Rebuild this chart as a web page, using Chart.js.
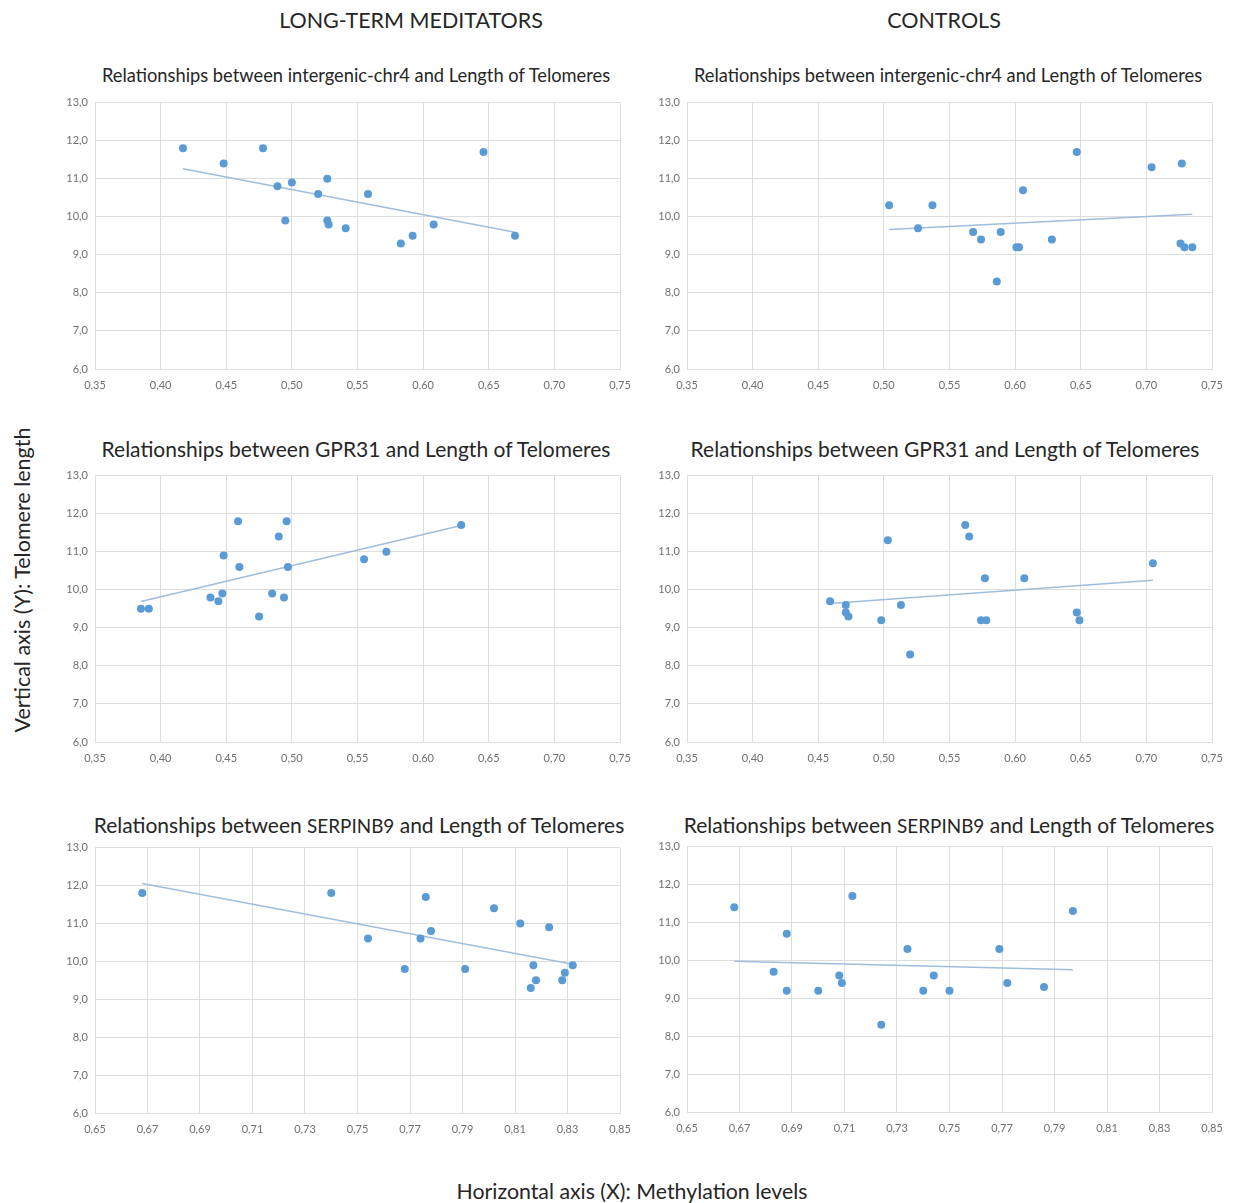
<!DOCTYPE html>
<html>
<head>
<meta charset="utf-8">
<script src="https://cdn.jsdelivr.net/npm/chart.js@4.4.0/dist/chart.umd.min.js"></script>
<style>
  html, body { margin: 0; padding: 0; background: #fff; }
  body { width: 1238px; height: 1203px; position: relative; overflow: hidden; font-family: Lato, "Open Sans", sans-serif; color: #222; }
  .box { position: absolute; }
  .txt { position: absolute; white-space: nowrap; transform: translate(-50%, -50%); color: #262626; }
  .head { font-size: 21.5px; }
  .t1 { font-size: 18.3px; }
  .t2 { font-size: 21px; }
  .small { font-size: 0.9em; }
  .ylab { font-size: 21.5px; transform: translate(-50%, -50%) rotate(-90deg); }
  .xlab { font-size: 21.3px; }
</style>
</head>
<body>
<div class="txt head" style="left:411px; top:20px;">LONG-TERM MEDITATORS</div>
<div class="txt head" style="left:944px; top:20px;">CONTROLS</div>

<div class="txt t1" style="left:356px; top:75px;">Relationships between intergenic-chr4 and Length of Telomeres</div>
<div class="txt t1" style="left:948px; top:75px;">Relationships between intergenic-chr4 and Length of Telomeres</div>
<div class="txt t2" style="left:356px; top:448px;">Relationships between GPR31 and Length of Telomeres</div>
<div class="txt t2" style="left:945px; top:448px;">Relationships between GPR31 and Length of Telomeres</div>
<div class="txt t2" style="left:359px; top:824px;">Relationships between <span class="small">SERPINB9</span> and Length of Telomeres</div>
<div class="txt t2" style="left:949px; top:824px;">Relationships between <span class="small">SERPINB9</span> and Length of Telomeres</div>

<div class="txt ylab" style="left:22px; top:580px;">Vertical axis (Y): Telomere length</div>
<div class="txt xlab" style="left:632px; top:1191px;">Horizontal axis (X): Methylation levels</div>

<div class="box" id="b1"><canvas id="c1"></canvas></div>
<div class="box" id="b2"><canvas id="c2"></canvas></div>
<div class="box" id="b3"><canvas id="c3"></canvas></div>
<div class="box" id="b4"><canvas id="c4"></canvas></div>
<div class="box" id="b5"><canvas id="c5"></canvas></div>
<div class="box" id="b6"><canvas id="c6"></canvas></div>

<script>
// ---- Data (methylation level X, telomere length Y) ----
const ltmChr4X = [0.417, 0.448, 0.478, 0.489, 0.500, 0.495, 0.520, 0.527, 0.527, 0.528, 0.541, 0.558, 0.583, 0.592, 0.608, 0.646, 0.670];
const ltmChr4Y = [11.8, 11.4, 11.8, 10.8, 10.9, 9.9, 10.6, 11.0, 9.9, 9.8, 9.7, 10.6, 9.3, 9.5, 9.8, 11.7, 9.5];

const ctlChr4X = [0.504, 0.526, 0.537, 0.568, 0.574, 0.586, 0.589, 0.601, 0.603, 0.606, 0.628, 0.647, 0.704, 0.727, 0.726, 0.729, 0.735];
const ctlChr4Y = [10.3, 9.7, 10.3, 9.6, 9.4, 8.3, 9.6, 9.2, 9.2, 10.7, 9.4, 11.7, 11.3, 11.4, 9.3, 9.2, 9.2];

const ltmGprX = [0.385, 0.391, 0.438, 0.444, 0.447, 0.448, 0.459, 0.460, 0.475, 0.485, 0.490, 0.494, 0.496, 0.497, 0.555, 0.572, 0.629];
const ltmGprY = [9.5, 9.5, 9.8, 9.7, 9.9, 10.9, 11.8, 10.6, 9.3, 9.9, 11.4, 9.8, 11.8, 10.6, 10.8, 11.0, 11.7];

const ctlGprX = [0.459, 0.471, 0.471, 0.473, 0.498, 0.503, 0.513, 0.520, 0.562, 0.565, 0.574, 0.577, 0.578, 0.607, 0.647, 0.649, 0.705];
const ctlGprY = [9.7, 9.6, 9.4, 9.3, 9.2, 11.3, 9.6, 8.3, 11.7, 11.4, 9.2, 10.3, 9.2, 10.3, 9.4, 9.2, 10.7];

const ltmSerX = [0.668, 0.740, 0.754, 0.768, 0.774, 0.776, 0.778, 0.791, 0.802, 0.812, 0.816, 0.817, 0.818, 0.823, 0.828, 0.829, 0.832];
const ltmSerY = [11.8, 11.8, 10.6, 9.8, 10.6, 11.7, 10.8, 9.8, 11.4, 11.0, 9.3, 9.9, 9.5, 10.9, 9.5, 9.7, 9.9];

const ctlSerX = [0.668, 0.683, 0.688, 0.688, 0.700, 0.708, 0.709, 0.713, 0.724, 0.734, 0.740, 0.744, 0.750, 0.769, 0.772, 0.786, 0.797];
const ctlSerY = [11.4, 9.7, 10.7, 9.2, 9.2, 9.6, 9.4, 11.7, 8.3, 10.3, 9.2, 9.6, 9.2, 10.3, 9.4, 9.3, 11.3];

// axis ranges / tick settings
const xTopMin = 0.35, xTopMax = 0.75, xTopStep = 0.05;
const xBotMin = 0.65, xBotMax = 0.85, xBotStep = 0.02;
const yMin = 6, yMax = 13, yStep = 1;

// ---- Layout of plot areas (page pixels) ----
const panels = [
  { id: 'c1', box: 'b1', X: ltmChr4X, Y: ltmChr4Y, xr: [xTopMin, xTopMax, xTopStep], area: [95, 620, 101, 369] },
  { id: 'c2', box: 'b2', X: ctlChr4X, Y: ctlChr4Y, xr: [xTopMin, xTopMax, xTopStep], area: [687, 1212, 101, 369] },
  { id: 'c3', box: 'b3', X: ltmGprX, Y: ltmGprY, xr: [xTopMin, xTopMax, xTopStep], area: [95, 620, 474, 742] },
  { id: 'c4', box: 'b4', X: ctlGprX, Y: ctlGprY, xr: [xTopMin, xTopMax, xTopStep], area: [687, 1212, 474, 742] },
  { id: 'c5', box: 'b5', X: ltmSerX, Y: ltmSerY, xr: [xBotMin, xBotMax, xBotStep], area: [95, 620, 846, 1113] },
  { id: 'c6', box: 'b6', X: ctlSerX, Y: ctlSerY, xr: [xBotMin, xBotMax, xBotStep], area: [687, 1212, 845, 1112] }
];

const Y_W = 55, X_H = 28, BOX_T = 12, PAD_T = 9, PAD_R = 24;

function regression(xs, ys) {
  const n = xs.length;
  let sx = 0, sy = 0, sxx = 0, sxy = 0;
  for (let i = 0; i < n; i++) { sx += xs[i]; sy += ys[i]; sxx += xs[i] * xs[i]; sxy += xs[i] * ys[i]; }
  const b = (n * sxy - sx * sy) / (n * sxx - sx * sx);
  const a = (sy - b * sx) / n;
  const x0 = Math.min(...xs), x1 = Math.max(...xs);
  return [{ x: x0, y: a + b * x0 }, { x: x1, y: a + b * x1 }];
}

const tickFont = { family: 'Lato, "Open Sans", sans-serif', size: 11 };
const tickColor = '#707070';
const gridColor = '#dedede';

const charts = [];
panels.forEach(p => {
  const [l, r, t, b] = p.area;
  const box = document.getElementById(p.box);
  const left = l - Y_W, top = t - BOX_T;
  box.style.left = left + 'px';
  box.style.top = top + 'px';
  box.style.width = (r + PAD_R - left) + 'px';
  box.style.height = (b + X_H - top) + 'px';

  const pts = p.X.map((x, i) => ({ x: x, y: p.Y[i] }));
  charts.push(new Chart(document.getElementById(p.id), {
    type: 'scatter',
    data: {
      datasets: [
        { data: pts, backgroundColor: '#5b9bd5', borderWidth: 0, pointRadius: 4, order: 1 },
        { type: 'line', data: regression(p.X, p.Y), borderColor: '#9fbddc', borderWidth: 1.5,
          pointRadius: 0, fill: false, tension: 0, order: 2 }
      ]
    },
    options: {
      responsive: true, maintainAspectRatio: false, animation: false,
      layout: { padding: { left: 0, right: PAD_R, top: PAD_T, bottom: 0 } },
      plugins: { legend: { display: false }, tooltip: { enabled: false } },
      scales: {
        x: {
          type: 'linear', min: p.xr[0], max: p.xr[1],
          ticks: { stepSize: p.xr[2], font: tickFont, color: tickColor, padding: 10, maxRotation: 0,
                   callback: v => v.toFixed(2).replace('.', ',') },
          grid: { color: gridColor, lineWidth: 1, drawTicks: false },
          border: { color: gridColor },
          afterFit: s => { s.height = X_H; }
        },
        y: {
          type: 'linear', min: yMin, max: yMax,
          ticks: { stepSize: yStep, font: tickFont, color: tickColor, padding: 7,
                   callback: v => v.toFixed(1).replace('.', ',') },
          grid: { color: gridColor, lineWidth: 1, drawTicks: false },
          border: { color: gridColor },
          afterFit: s => { s.width = Y_W; }
        }
      }
    }
  }));
});
</script>
</body>
</html>
